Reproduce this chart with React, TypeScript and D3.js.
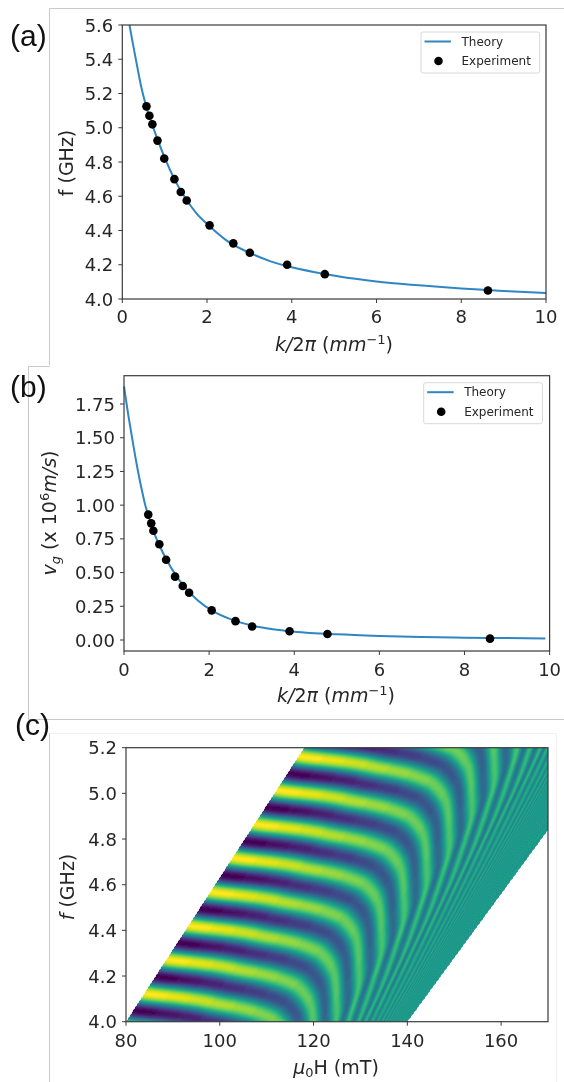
import React, { useMemo } from "react";
import * as d3 from "d3";

// Panel (a)
const expK = [0.57, 0.64, 0.71, 0.83, 0.99, 1.23, 1.38, 1.52, 2.06, 2.62, 3.01, 3.89, 4.78, 8.63];
const expF = [5.125, 5.07, 5.02, 4.925, 4.82, 4.7, 4.625, 4.575, 4.43, 4.325, 4.27, 4.2, 4.145, 4.05];
const theoryKa = [0.17, 0.25, 0.35, 0.45, 0.57, 0.71, 0.85, 1, 1.25, 1.5, 1.75, 2.06, 2.5, 3, 3.5, 4, 4.8, 5.5, 6, 7, 8, 8.63, 9, 10];
const theoryFa = [5.6, 5.49, 5.36, 5.235, 5.12, 5.015, 4.92, 4.825, 4.69, 4.585, 4.5, 4.425, 4.335, 4.27, 4.22, 4.185, 4.145, 4.118, 4.102, 4.08, 4.062, 4.052, 4.047, 4.035];
const fTicksA = [4.0, 4.2, 4.4, 4.6, 4.8, 5.0, 5.2, 5.4, 5.6];
const kTicks = [0, 2, 4, 6, 8, 10];

// Panel (b)
const expKb = [0.57, 0.64, 0.69, 0.83, 0.99, 1.2, 1.38, 1.53, 2.06, 2.62, 3.01, 3.89, 4.78, 8.6];
const expV = [0.93, 0.865, 0.81, 0.71, 0.595, 0.47, 0.4, 0.35, 0.22, 0.14, 0.1, 0.065, 0.045, 0.01];
const theoryKb = [0, 0.1, 0.2, 0.3, 0.4, 0.5, 0.57, 0.7, 0.85, 1, 1.25, 1.5, 1.75, 2.06, 2.5, 3, 3.5, 4, 5, 6, 7, 8, 9, 9.9];
const theoryV = [1.88, 1.67, 1.48, 1.3, 1.14, 1.0, 0.925, 0.8, 0.69, 0.595, 0.465, 0.365, 0.29, 0.22, 0.155, 0.108, 0.08, 0.062, 0.042, 0.03, 0.022, 0.017, 0.014, 0.012];
const vTicks = [0, 0.25, 0.5, 0.75, 1, 1.25, 1.5, 1.75];

// Panel (c): fringe map
const hTicks = [80, 100, 120, 140, 160];
const fTicksC = [4.0, 4.2, 4.4, 4.6, 4.8, 5.0, 5.2];
const leftEdgeF = [4.0, 5.2];
const leftEdgeH = [80, 118];
const rightEdgeF = [4.0, 4.84];
const rightEdgeH = [140, 170];
const fringeSpacing = 0.148;
const fringeDrift = 32.5; // mT per GHz
const fringeField = [78, 81, 88, 93, 97, 101, 105, 108, 111, 113, 115, 117, 119.7, 122, 124.6, 127.3, 129.5, 131, 132.4, 133.6, 135, 137, 139, 141, 143, 146];
const fringeOrder = [-0.88, -0.82, -0.72, -0.63, -0.53, -0.44, -0.33, -0.22, -0.08, 0.07, 0.26, 0.5, 0.95, 1.4, 1.95, 2.95, 3.95, 4.95, 5.95, 6.95, 8.5, 12, 18, 30, 60, 120];
const ampField = [78, 90, 100, 110, 118, 125, 130, 135, 140, 146];
const fringeAmp = [1.05, 0.86, 0.7, 0.54, 0.42, 0.33, 0.2, 0.1, 0.05, 0.04];

const FONT = "DejaVu Sans";
const BLUE = "#2f86c2";
const SPINE = "#3a3a3a";
const GRID = "#c9c9c9";
const FS = 18;
const LS = 19;

const xA = d3.scaleLinear().domain([0, 10]).range([122.3, 546]);
const yA = d3.scaleLinear().domain([4, 5.6]).range([299, 25]);
const xB = d3.scaleLinear().domain([0, 10]).range([124, 549.6]);
const yB = d3.scaleLinear().domain([-0.0815, 1.96]).range([651, 375.7]);
const xC = d3.scaleLinear().domain([80, 170]).range([126, 548]);
const yC = d3.scaleLinear().domain([4, 5.2]).range([1021.7, 747.7]);

// monotone cubic through the read table, so fringes bend without corners
function monotone(xs: number[], ys: number[]) {
  const n = xs.length;
  const dl = d3.range(n - 1).map((i) => (ys[i + 1] - ys[i]) / (xs[i + 1] - xs[i]));
  const m = d3.range(n).map((i) => {
    if (i === 0) return dl[0];
    if (i === n - 1) return dl[n - 2];
    return dl[i - 1] * dl[i] <= 0 ? 0 : (2 * dl[i - 1] * dl[i]) / (dl[i - 1] + dl[i]);
  });
  const bis = d3.bisector((v: number) => v).right;
  return (x: number) => {
    if (x <= xs[0]) return ys[0];
    if (x >= xs[n - 1]) return ys[n - 1];
    const i = bis(xs, x) - 1;
    const h = xs[i + 1] - xs[i];
    const t = (x - xs[i]) / h;
    const t2 = t * t;
    const t3 = t2 * t;
    return (2 * t3 - 3 * t2 + 1) * ys[i] + (t3 - 2 * t2 + t) * h * m[i] + (-2 * t3 + 3 * t2) * ys[i + 1] + (t3 - t2) * h * m[i + 1];
  };
}

function fringeImage(): string {
  const w = Math.round(xC.range()[1] - xC.range()[0]);
  const h = Math.round(yC.range()[0] - yC.range()[1]);
  const canvas = document.createElement("canvas");
  canvas.width = w;
  canvas.height = h;
  const ctx = canvas.getContext("2d")!;
  const img = ctx.createImageData(w, h);
  const order = monotone(fringeField, fringeOrder);
  const amp = d3.scaleLinear().domain(ampField).range(fringeAmp).clamp(true);
  const leftH = d3.scaleLinear().domain(leftEdgeF).range(leftEdgeH);
  const rightH = d3.scaleLinear().domain(rightEdgeF).range(rightEdgeH);
  const px = d3.scaleLinear().domain([0, w]).range([80, 170]);
  const py = d3.scaleLinear().domain([0, h]).range([5.2, 4]);
  const step = 5.2;
  for (let j = 0; j < h; j++) {
    const f = py(j + 0.5);
    const hl = leftH(f);
    const hr = rightH(f);
    for (let i = 0; i < w; i++) {
      const H = px(i + 0.5);
      if (H < hl || H > hr) continue;
      const u = H - fringeDrift * (f - 4);
      const Hq = hl + Math.floor((H - hl) / step) * step;
      const uq = Hq - fringeDrift * (f - 4);
      const a = Math.min(1, amp(u) * 0.5 + amp(uq) * 0.5);
      const N = (f - 4) / fringeSpacing + order(u);
      const v = 0.5 + 0.5 * a * Math.cos(2 * Math.PI * N) + 0.04 * (1 - a);
      const c = d3.rgb(d3.interpolateViridis(Math.max(0, Math.min(1, v))));
      const k = (j * w + i) * 4;
      img.data[k] = c.r;
      img.data[k + 1] = c.g;
      img.data[k + 2] = c.b;
      img.data[k + 3] = 255;
    }
  }
  ctx.putImageData(img, 0, 0);
  return canvas.toDataURL("image/png");
}

type Sc = d3.ScaleLinear<number, number>;

function Axes({ x, y, xt, yt, xFmt, yFmt, xBase }: { x: Sc; y: Sc; xt: number[]; yt: number[]; xFmt: (v: number) => string; yFmt: (v: number) => string; xBase: number }) {
  const [x0, x1] = x.range();
  const [y0, y1] = y.range();
  return (
    <g>
      <rect x={x0} y={y1} width={x1 - x0} height={y0 - y1} fill="none" stroke={SPINE} strokeWidth={1.2} />
      {xt.map((t) => (
        <g key={t}>
          <line x1={x(t)} x2={x(t)} y1={y0} y2={y0 + 4} stroke={SPINE} />
          <text x={x(t)} y={xBase} textAnchor="middle" fontFamily={FONT} fontSize={FS} fill="#262626">{xFmt(t)}</text>
        </g>
      ))}
      {yt.map((t) => (
        <g key={t}>
          <line x1={x0 - 4} x2={x0} y1={y(t)} y2={y(t)} stroke={SPINE} />
          <text x={x0 - 9} y={y(t) + 6.6} textAnchor="end" fontFamily={FONT} fontSize={FS} fill="#262626">{yFmt(t)}</text>
        </g>
      ))}
    </g>
  );
}

function Legend({ x, y }: { x: number; y: number }) {
  return (
    <g fontFamily={FONT} fontSize={12} fill="#262626">
      <rect x={x} y={y} width={118.7} height={41} rx={2} fill="#fff" stroke="#d8d8d8" />
      <line x1={x + 3.5} x2={x + 30} y1={y + 9.5} y2={y + 9.5} stroke={BLUE} strokeWidth={2} />
      <circle cx={x + 17.5} cy={y + 29} r={4.3} fill="#000" />
      <text x={x + 40.5} y={y + 13.7}>Theory</text>
      <text x={x + 40.5} y={y + 33.3}>Experiment</text>
    </g>
  );
}

function KLabel({ cx, y }: { cx: number; y: number }) {
  return (
    <text x={cx} y={y} textAnchor="middle" fontFamily={FONT} fontSize={LS} fill="#262626">
      <tspan fontStyle="italic">k/</tspan>2<tspan fontStyle="italic">π</tspan> (<tspan fontStyle="italic">mm</tspan>
      <tspan fontSize={13} dy={-7}>−1</tspan>
      <tspan dy={7}>)</tspan>
    </text>
  );
}

export default function App() {
  const href = useMemo(fringeImage, []);
  const lineA = d3.line<number>().x((k) => xA(k)).y((_, i) => yA(theoryFa[i])).curve(d3.curveMonotoneX);
  const lineB = d3.line<number>().x((k) => xB(k)).y((_, i) => yB(theoryV[i])).curve(d3.curveMonotoneX);
  const tw = xC.range()[1] - xC.range()[0];
  const th = yC.range()[0] - yC.range()[1];
  return (
    <svg width={564} height={1082} viewBox="0 0 564 1082" style={{ position: "absolute", left: 0, top: 0, background: "#fff" }}>
      <defs>
        <filter id="soft" x="0" y="0" width="1" height="1" filterUnits="objectBoundingBox">
          <feGaussianBlur stdDeviation="0.45" />
        </filter>
        <filter id="softer" x="0" y="0" width="1" height="1" filterUnits="objectBoundingBox">
          <feGaussianBlur stdDeviation="0.7" />
        </filter>
      </defs>

      <g fill="none" stroke={GRID} strokeWidth={1}>
        <path d="M49.5 365.5V8.5H564" />
        <path d="M49.5 366.5H28.5V719.5H564" />
        <path d="M49.5 1082V733.5" />
        <path d="M49.5 733.5H556.5V1082" stroke="#f0f0f0" />
      </g>

      <image href={href} x={xC.range()[0]} y={yC.range()[1]} width={tw} height={th} preserveAspectRatio="none" filter="url(#softer)" />

      <g filter="url(#soft)">
        {/* Panel a */}
        <path d={lineA(theoryKa) ?? ""} fill="none" stroke={BLUE} strokeWidth={2} />
        {expK.map((k, i) => <circle key={i} cx={xA(k)} cy={yA(expF[i])} r={4.3} fill="#000" />)}
        <Axes x={xA} y={yA} xt={kTicks} yt={fTicksA} xFmt={String} yFmt={(v) => v.toFixed(1)} xBase={323} />
        <Legend x={421} y={32} />
        <text transform="translate(73,163) rotate(-90)" textAnchor="middle" fontFamily={FONT} fontSize={LS} fill="#262626">f (GHz)</text>
        <KLabel cx={334} y={351} />

        {/* Panel b */}
        <path d={lineB(theoryKb) ?? ""} fill="none" stroke={BLUE} strokeWidth={2} />
        {expKb.map((k, i) => <circle key={i} cx={xB(k)} cy={yB(expV[i])} r={4.3} fill="#000" />)}
        <Axes x={xB} y={yB} xt={kTicks} yt={vTicks} xFmt={String} yFmt={(v) => v.toFixed(2)} xBase={676} />
        <Legend x={423.7} y={382.7} />
        <text transform="translate(56,513) rotate(-90)" textAnchor="middle" fontFamily={FONT} fontSize={LS} fill="#262626">
          <tspan fontStyle="italic">v</tspan>
          <tspan fontSize={13} fontStyle="italic" dy={4}>g</tspan>
          <tspan dy={-4}> (x 10</tspan>
          <tspan fontSize={13} dy={-7}>6</tspan>
          <tspan dy={7} fontStyle="italic">m/s</tspan>)
        </text>
        <KLabel cx={336} y={702} />

        {/* Panel c */}
        <Axes x={xC} y={yC} xt={hTicks} yt={fTicksC} xFmt={String} yFmt={(v) => v.toFixed(1)} xBase={1047} />
        <text transform="translate(74,887) rotate(-90)" textAnchor="middle" fontFamily={FONT} fontSize={LS} fill="#262626">
          <tspan fontStyle="italic">f</tspan> (GHz)
        </text>
        <text x={336} y={1074} textAnchor="middle" fontFamily={FONT} fontSize={LS} fill="#262626">
          <tspan fontStyle="italic">μ</tspan>
          <tspan fontSize={13} dy={3}>0</tspan>
          <tspan dy={-3}>H (mT)</tspan>
        </text>
      </g>

      <g fontFamily="Liberation Sans" fontSize={30} fill="#111">
        <text x={10} y={46}>(a)</text>
        <text x={10} y={397}>(b)</text>
        <text x={15} y={735}>(c)</text>
      </g>
    </svg>
  );
}
